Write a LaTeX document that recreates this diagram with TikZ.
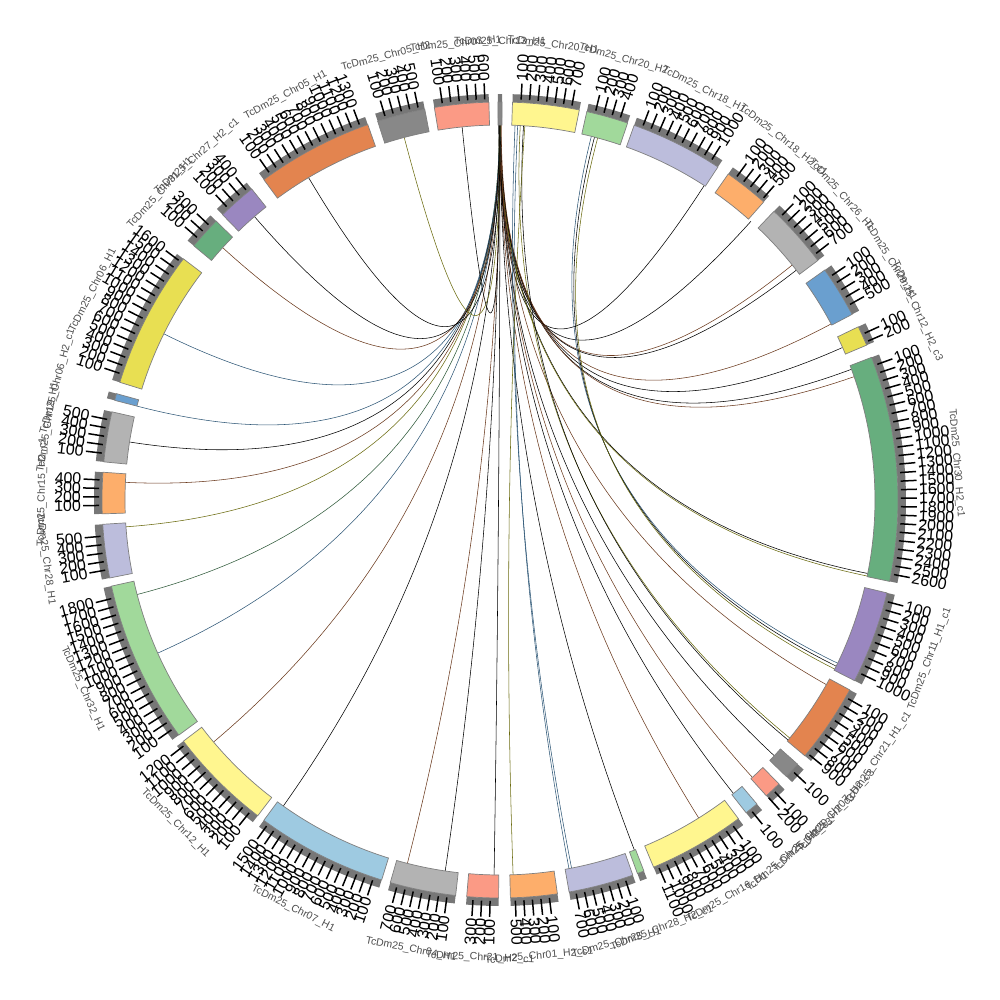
\documentclass[tikz,border=0pt]{standalone}
\usepackage{fontspec}
\setsansfont{Liberation Sans}
\definecolor{cYelP}{HTML}{FFF68F}
\definecolor{cGrnL}{HTML}{A1D99B}
\definecolor{cLav}{HTML}{BCBDDC}
\definecolor{cOrL}{HTML}{FDAE6B}
\definecolor{cGryL}{HTML}{B3B3B3}
\definecolor{cBlu}{HTML}{6A9FCF}
\definecolor{cYelM}{HTML}{E8DF52}
\definecolor{cGrnM}{HTML}{67AE7E}
\definecolor{cPur}{HTML}{9A87C0}
\definecolor{cOrD}{HTML}{E3844F}
\definecolor{cGryM}{HTML}{888888}
\definecolor{cSal}{HTML}{FB9A85}
\definecolor{cBluL}{HTML}{9ECAE1}
\definecolor{cBand}{HTML}{777777}
\definecolor{cEdge}{HTML}{7F7F7F}
\definecolor{cName}{HTML}{4D4D4D}
\definecolor{kBrown}{HTML}{6B3A1E}
\definecolor{kOlive}{HTML}{6B6B10}
\definecolor{kBlue}{HTML}{2F5877}
\definecolor{kGreen}{HTML}{2F5A3A}
\begin{document}
\begin{tikzpicture}[x=1bp,y=1bp,
  block/.style={draw=cEdge,line width=0.7bp},
  tickline/.style={line width=1.5bp,draw=black},
  numlab/.style={inner sep=0pt,font=\sffamily\fontsize{16}{16}\selectfont},
  namelab/.style={inner sep=0pt,text=cName,font=\sffamily\fontsize{10.5}{10.5}\selectfont},
  chord/.style={line width=0.55bp}]
\useasboundingbox (-500,-500) rectangle (500,500);
% ---- chords (quadratic links through the centre) ----
\foreach \p/\q/\kc in {
  57/89.9/black, 48/90.1/black, 38.8/90.0/kBrown, 37.8/90.2/black,
  28/89.8/kBrown, 24/90.0/black, 20.4/90.1/black, 19.2/89.9/kBrown,
  -11.3/89.9/black, -11.7/90.05/kOlive,
  -25.8/75.9/kBlue, -26.3/75.4/black, -26.8/74.9/kOlive,
  -29.5/90.0/kBrown, -39.4/86.9/kOlive, -39.8/86.4/black,
  -43/90.1/black, -47.7/89.9/kBrown, -51.5/90.0/black, -58/90.1/kBrown,
  -69/90.0/black, -79/87.7/kBlue, -79.4/87.3/kBlue, -88/86.2/kOlive,
  -90.9/90.0/black, -98.4/90.1/black, -104.3/89.9/kBrown,
  -125.3/90.0/black, -139.8/90.1/kBrown, -155.9/89.9/kBlue,
  -165.4/90.0/kGreen, -175.9/90.1/kOlive, 177.3/89.9/kBrown,
  171.1/90.0/black, 165.5/90.1/kBlue, 153.7/89.9/kBlue,
  137.7/90.0/kBrown, 130.9/90.1/black, 120.7/89.9/black,
  104.8/90.0/kOlive, 95.8/90.05/black}{
  \draw[chord,draw=\kc] (\p:375) .. controls (\p:125) and (\q:125) .. (\q:375);
}
% ---- sectors, ticks, labels ----
\foreach \sa/\sb/\col/\n/\nm in {
  90.3/89.7/cGryM/0/TcDm25\_Chr13\_H1,
  88.2/78.5/cYelP/7/TcDm25\_Chr20\_H1,
  77.4/71.3/cGrnL/4/TcDm25\_Chr20\_H2,
  70.3/56.8/cLav/10/TcDm25\_Chr18\_H1,
  55.0/48.5/cOrL/5/TcDm25\_Chr18\_H2\_c1,
  46.5/37.0/cGryL/7/TcDm25\_Chr26\_H1,
  35.3/27.8/cBlu/5/TcDm25\_Chr29\_H1,
  25.8/22.9/cYelM/2/TcDm25\_Chr12\_H2\_c3,
  21.0/-11.8/cGrnM/26/TcDm25\_Chr30\_H2\_c1,
  -13.5/-27.0/cPur/10/TcDm25\_Chr11\_H1\_c1,
  -28.5/-40.0/cOrD/9/TcDm25\_Chr21\_H1\_c1,
  -41.6/-44.0/cGryM/1/TcDm25\_Chr07\_H2\_c3,
  -45.5/-48.0/cSal/2/TcDm25\_Chr20\_H2\_c3,
  -49.8/-51.8/cBluL/1/TcDm25\_Chr25\_H2\_c3,
  -53.2/-67.3/cYelP/11/TcDm25\_Chr16\_H1,
  -68.8/-69.8/cGrnL/0/TcDm25\_Chr28\_H2\_c1,
  -70.5/-80.0/cLav/7/TcDm25\_Chr25\_H1,
  -81.7/-88.5/cOrL/5/TcDm25\_Chr01\_H2\_c1,
  -90.2/-94.8/cSal/3/TcDm25\_Chr21\_H2\_c1,
  -96.4/-106.0/cGryL/7/TcDm25\_Chr04\_H1,
  -107.3/-126.4/cBluL/15/TcDm25\_Chr07\_H1,
  -127.5/-142.7/cYelP/12/TcDm25\_Chr12\_H1,
  -143.8/-167.5/cGrnL/18/TcDm25\_Chr32\_H1,
  -168.7/-176.5/cLav/5/TcDm25\_Chr28\_H1,
  -178.0/-184.0/cOrL/4/TcDm25\_Chr15\_H2\_c1,
  -185.5/-192.8/cGryL/5/TcDm25\_Chr19\_H1,
  -194.5/-195.5/cBlu/0/TcDm25\_Chr06\_H2\_c1,
  -197.2/-217.3/cYelM/16/TcDm25\_Chr06\_H1,
  -219.7/-224.5/cGrnM/3/TcDm25\_Chr31\_H1,
  -225.8/-231.4/cPur/4/TcDm25\_Chr27\_H2\_c1,
  -233.6/-250.6/cOrD/13/TcDm25\_Chr05\_H1,
  -252.1/-259.1/cGryM/5/TcDm25\_Chr05\_H2,
  -260.5/-268.4/cSal/6/TcDm25\_Chr03\_H1}{
  \fill[cBand] (\sa:398) arc[start angle=\sa,end angle=\sb,radius=398]
     -- (\sb:406) arc[start angle=\sb,end angle=\sa,radius=406] -- cycle;
  \filldraw[block,fill=\col] (\sa:375) arc[start angle=\sa,end angle=\sb,radius=375]
     -- (\sb:398) arc[start angle=\sb,end angle=\sa,radius=398] -- cycle;
  \ifnum\n>0
    \foreach \k in {1,...,\n}{
      \pgfmathsetmacro{\ta}{\sa-1.22*\k}
      \draw[tickline] (\ta:401) -- (\ta:417);
      \pgfmathtruncatemacro{\rs}{cos(\ta)>=0 ? 1 : 0}
      \ifnum\rs=1
        \node[numlab,anchor=west,rotate=\ta] at (\ta:419) {\the\numexpr\k*100\relax};
      \else
        \pgfmathsetmacro{\rb}{\ta+180}
        \node[numlab,anchor=east,rotate=\rb] at (\ta:419) {\the\numexpr\k*100\relax};
      \fi
    }
  \fi
  \pgfmathsetmacro{\md}{(\sa+\sb)/2}
  \pgfmathtruncatemacro{\up}{sin(\md)>=0 ? 1 : 0}
  \ifnum\up=1
    \pgfmathsetmacro{\rot}{\md-90}
  \else
    \pgfmathsetmacro{\rot}{\md+90}
  \fi
  \node[namelab,rotate=\rot] at (\md:458) {\nm};
}
\end{tikzpicture}
\end{document}
